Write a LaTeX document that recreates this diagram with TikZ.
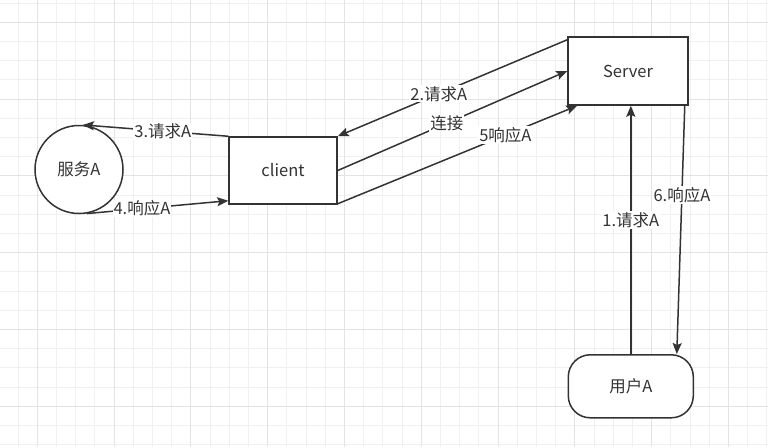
\documentclass[tikz,border=0pt]{standalone}
\usepackage{fontspec}
\setmainfont{Noto Sans CJK SC}
\usetikzlibrary{calc,arrows.meta,shapes.geometric}
\definecolor{ink}{HTML}{333333}
\definecolor{gminor}{HTML}{F0F0F0}
\definecolor{gmajor}{HTML}{E3E3E3}
\tikzset{
 box/.style={draw=ink, line width=1.5pt, fill=white, text=ink, font=\fontsize{16.5}{19}\selectfont, inner sep=0pt},
 conn/.style={draw=ink, line width=1.5pt, -{Stealth[length=11pt,width=9pt,inset=2pt]}},
 lbl/.style={fill=white, text=ink, font=\fontsize{16.5}{19}\selectfont, inner sep=1pt},
}
\begin{document}
\begin{tikzpicture}[x=1pt,y=-1pt]
\useasboundingbox (0,0) rectangle (768,447);
\fill[white] (0,0) rectangle (768,447);
\foreach \k in {-2,...,38} { \pgfmathsetmacro\xx{37.3+19.2*\k} \draw[gminor, line width=1pt] (\xx,0) -- (\xx,447); }
\foreach \k in {-1,...,23} { \pgfmathsetmacro\yy{22.3+19.2*\k} \draw[gminor, line width=1pt] (0,\yy) -- (768,\yy); }
\foreach \k in {0,4,...,36} { \pgfmathsetmacro\xx{37.3+19.2*\k} \draw[gmajor, line width=1pt] (\xx,0) -- (\xx,447); }
\foreach \k in {0,4,...,20} { \pgfmathsetmacro\yy{22.3+19.2*\k} \draw[gmajor, line width=1pt] (0,\yy) -- (768,\yy); }

\node[box, circle, minimum size=88pt] (svc) at (79,169.5) {服务A};
\node[box, rectangle, minimum width=108pt, minimum height=67pt] (client) at (283,170.5) {client};
\node[box, rectangle, minimum width=120pt, minimum height=68pt] (server) at (628,71) {Server};
\node[box, rectangle, rounded corners=22pt, minimum width=125pt, minimum height=63pt] (user) at (630.8,386.3) {用户A};

\draw[conn] (client.north west) -- node[lbl,pos=0.45]{3.请求A} (svc.85);
\draw[conn] (svc.-80) -- node[lbl,pos=0.39]{4.响应A} ($(client.south west)+(0,-4)$);
\draw[conn] ($(server.north west)+(0,3.5)$) -- node[lbl,pos=0.56]{2.请求A} (client.north east);
\draw[conn] (client.east) -- node[lbl,pos=0.475]{连接} (server.west);
\draw[conn] ($(client.south east)+(0,-1)$) -- node[lbl,pos=0.7]{5响应A} ($(server.south west)+(10,0)$);
\draw[conn] (user.north) -- node[lbl,pos=0.54]{1.请求A} (user.north |- server.south);
\draw[conn] ($(server.south east)+(-4,0)$) -- node[lbl,pos=0.36]{6.响应A} ($(user.north)+(46,0)$);
\end{tikzpicture}
\end{document}
